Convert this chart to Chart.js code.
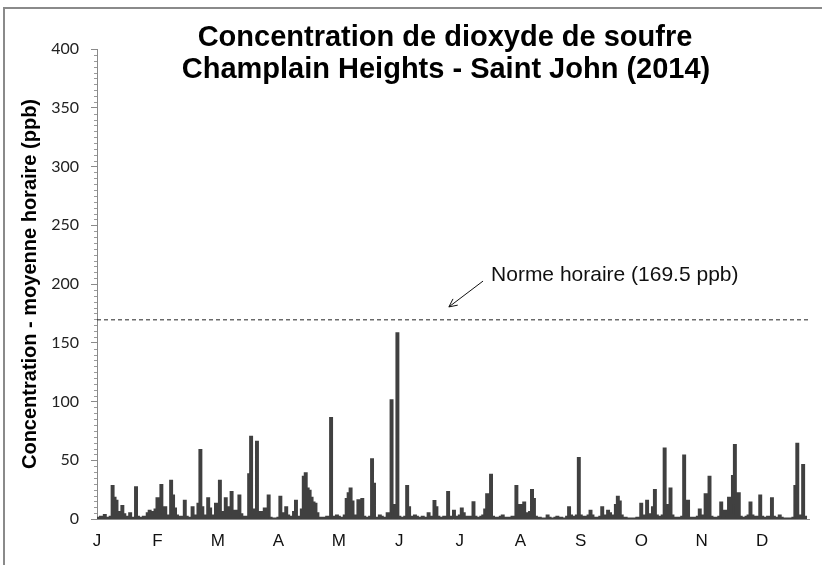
<!DOCTYPE html>
<html>
<head>
<meta charset="utf-8">
<script src="https://cdn.jsdelivr.net/npm/chart.js@4/dist/chart.umd.min.js"></script>
<style>
  html, body { margin: 0; padding: 0; background: #ffffff; }
  #wrap { width: 822px; height: 565px; position: relative; }
</style>
</head>
<body>
<div id="wrap"><canvas id="c" width="822" height="565"></canvas></div>
<script>
// Month initials shown along the time axis, one every 31 days
const monthLabels = ['J', 'F', 'M', 'A', 'M', 'J', 'J', 'A', 'S', 'O', 'N', 'D'];
const monthTickDays = [0, 31, 62, 93, 124, 155, 186, 217, 248, 279, 310, 341];

// Daily peak of the hourly SO2 average (ppb), day 0 = 1 January 2014
const so2Daily = [
  1, 1, 2, 2, 3.5, 1, 1, 2, 28, 18,
  15.6, 5, 6, 11, 4, 2, 1, 5, 1, 1,
  27, 2, 1, 1, 2, 2, 5, 7, 4, 6,
  8, 17.6, 6, 29, 3, 10, 2, 3, 32.6, 20,
  9, 3, 2, 1, 2, 15.6, 2, 1, 1, 10,
  2, 3, 13, 58.7, 10, 2, 3, 17.6, 9, 2,
  3, 13, 4, 32.6, 6, 4, 17.6, 10, 3, 23,
  5, 7, 3, 20, 4, 2, 1, 2, 38, 70,
  8, 4, 65.8, 5, 6, 2, 9, 9, 20, 1,
  0.5, 0.5, 0.5, 1, 19, 5, 2, 10, 3, 1,
  2, 6, 15.6, 2, 1, 8, 36, 39, 26, 24,
  18, 14, 13, 5, 1, 1, 1, 1, 2, 1,
  86, 2, 1, 3, 2, 1, 1, 3, 17, 22,
  26, 15, 3, 1, 16, 2, 17, 2, 1, 1,
  2, 50.8, 30, 1, 1, 3, 2, 1, 1, 5,
  2, 101, 12, 3, 158, 2, 1, 1, 2, 28,
  10, 2, 2, 3, 2, 1, 1, 2, 1, 1,
  5, 1, 2, 15.3, 10, 2, 1, 1, 2, 1,
  23, 2, 1, 7, 2, 1, 3, 9, 5, 2,
  1, 2, 2, 14.2, 2, 1, 1, 2, 3, 8,
  21, 5, 37.7, 2, 1, 1, 1, 2, 3, 1,
  1, 1, 1, 2, 2, 28, 4, 12, 3, 14,
  5, 3, 6, 24.7, 17, 2, 1, 1, 0.5, 0.5,
  0.5, 3, 1, 0.5, 0.5, 1, 2, 1, 1, 0.5,
  0.5, 2, 10, 3, 2, 1, 3, 52, 3, 2,
  1, 2, 3, 7, 3, 1, 1, 1, 2, 10,
  3, 2, 7, 5, 2, 3, 12, 19, 15, 3,
  1, 1, 0.5, 0.5, 0.5, 0.5, 0.5, 1, 1, 13,
  2, 3, 15.6, 4, 2, 10, 24.7, 3, 2, 1,
  3, 60, 12, 2, 26, 3, 1, 1, 1, 1,
  2, 54, 3, 15.6, 1, 1, 1, 1, 2, 8,
  2, 3, 21, 4, 36, 2, 1, 1, 1, 2,
  14, 3, 7, 4, 18, 5, 36.6, 63, 3, 22,
  2, 1, 1, 2, 3, 14, 3, 2, 1, 2,
  20, 2, 1, 1, 2, 1, 17.6, 2, 1, 1,
  3, 1, 0.5, 0.5, 0.5, 0.5, 0.5, 1, 28, 64,
  3, 2, 46, 2, 2
];

// Hourly air-quality standard
const normeHoraire = 169.5;
const normeLabel = 'Norme horaire (169.5 ppb)';

const titleLines = ['Concentration de dioxyde de soufre', 'Champlain Heights - Saint John (2014)'];
const yAxisTitle = 'Concentration - moyenne horaire (ppb)';

const DAYS_IN_YEAR = 365;
const MINOR_STEP = 5;
const SANS = '"Liberation Sans", Arial, sans-serif';

const so2Points = so2Daily.map((v, i) => ({ x: i, y: v }));
const normePoints = [{ x: 0, y: normeHoraire }, { x: DAYS_IN_YEAR, y: normeHoraire }];

// Outer frame, title, minor ticks and the standard's callout
const decorations = {
  id: 'decorations',
  beforeDraw(chart) {
    const ctx = chart.ctx;
    ctx.save();
    ctx.fillStyle = '#ffffff';
    ctx.fillRect(0, 0, chart.width, chart.height);
    ctx.strokeStyle = '#8a8a8a';
    ctx.lineWidth = 2;
    ctx.beginPath();
    ctx.moveTo(4, chart.height + 5);
    ctx.lineTo(4, 8);
    ctx.lineTo(chart.width + 5, 8);
    ctx.stroke();
    ctx.restore();
  },
  afterDraw(chart) {
    const ctx = chart.ctx;
    const xs = chart.scales.x;
    const ys = chart.scales.y;
    ctx.save();

    // title
    ctx.fillStyle = '#000000';
    ctx.textAlign = 'center';
    ctx.textBaseline = 'middle';
    ctx.font = 'bold 29px ' + SANS;
    ctx.fillText(titleLines[0], 445, 38);
    ctx.fillText(titleLines[1], 446, 70);

    // minor ticks on the value axis
    ctx.strokeStyle = '#9a9a9a';
    ctx.lineWidth = 1;
    ctx.beginPath();
    for (let v = 0; v <= ys.max; v += MINOR_STEP) {
      if (v % 50 === 0) continue;
      const py = Math.round(ys.getPixelForValue(v)) + 0.5;
      ctx.moveTo(xs.left - 3, py);
      ctx.lineTo(xs.left, py);
    }
    ctx.stroke();

    // callout for the hourly standard
    ctx.fillStyle = '#111111';
    ctx.textAlign = 'left';
    ctx.textBaseline = 'middle';
    ctx.font = '21px ' + SANS;
    ctx.fillText(normeLabel, xs.getPixelForValue(202), ys.getPixelForValue(207.5));

    const x0 = xs.getPixelForValue(197.9), y0 = ys.getPixelForValue(202.5);
    const x1 = xs.getPixelForValue(180.4), y1 = ys.getPixelForValue(180.5);
    const ang = Math.atan2(y1 - y0, x1 - x0);
    ctx.strokeStyle = '#111111';
    ctx.lineWidth = 1;
    ctx.beginPath();
    ctx.moveTo(x0, y0);
    ctx.lineTo(x1, y1);
    ctx.moveTo(x1 - 9 * Math.cos(ang - 0.45), y1 - 9 * Math.sin(ang - 0.45));
    ctx.lineTo(x1, y1);
    ctx.lineTo(x1 - 9 * Math.cos(ang + 0.45), y1 - 9 * Math.sin(ang + 0.45));
    ctx.stroke();
    ctx.restore();
  }
};

new Chart(document.getElementById('c'), {
  type: 'line',
  data: {
    datasets: [
      {
        label: 'SO2',
        data: so2Points,
        borderColor: '#404040',
        backgroundColor: '#404040',
        borderWidth: 2,
        pointRadius: 0,
        stepped: 'middle',
        fill: 'origin'
      },
      {
        label: 'Norme horaire',
        data: normePoints,
        borderColor: '#222222',
        borderWidth: 1,
        borderDash: [4, 3],
        pointRadius: 0,
        fill: false
      }
    ]
  },
  options: {
    responsive: false,
    animation: false,
    devicePixelRatio: 1,
    layout: { padding: { top: 49, right: 13, bottom: 0, left: 0 } },
    plugins: {
      legend: { display: false },
      tooltip: { enabled: false },
      title: { display: false },
      filler: { propagate: false }
    },
    scales: {
      x: {
        type: 'linear',
        min: 0,
        max: DAYS_IN_YEAR,
        afterBuildTicks(scale) {
          scale.ticks = monthTickDays.map(v => ({ value: v }));
        },
        afterFit(scale) { scale.height = 46; },
        grid: { display: false, drawTicks: false },
        border: { display: true, color: '#8a8a8a', width: 1 },
        ticks: {
          autoSkip: false,
          maxRotation: 0,
          padding: 12,
          color: '#111111',
          font: { family: SANS, size: 17 },
          callback: (v, i) => monthLabels[i]
        }
      },
      y: {
        min: 0,
        max: 400,
        afterFit(scale) { scale.width = 97; },
        grid: { drawOnChartArea: false, drawTicks: true, tickLength: 6, color: '#8a8a8a' },
        border: { display: true, color: '#8a8a8a', width: 1 },
        ticks: {
          stepSize: 50,
          padding: 12,
          color: '#222222',
          font: { family: 'Lato', size: 16 }
        },
        title: {
          display: true,
          text: yAxisTitle,
          color: '#000000',
          font: { family: SANS, size: 20, weight: 'bold' },
          padding: { top: 18, bottom: 0 }
        }
      }
    }
  },
  plugins: [decorations]
});
</script>
</body>
</html>
